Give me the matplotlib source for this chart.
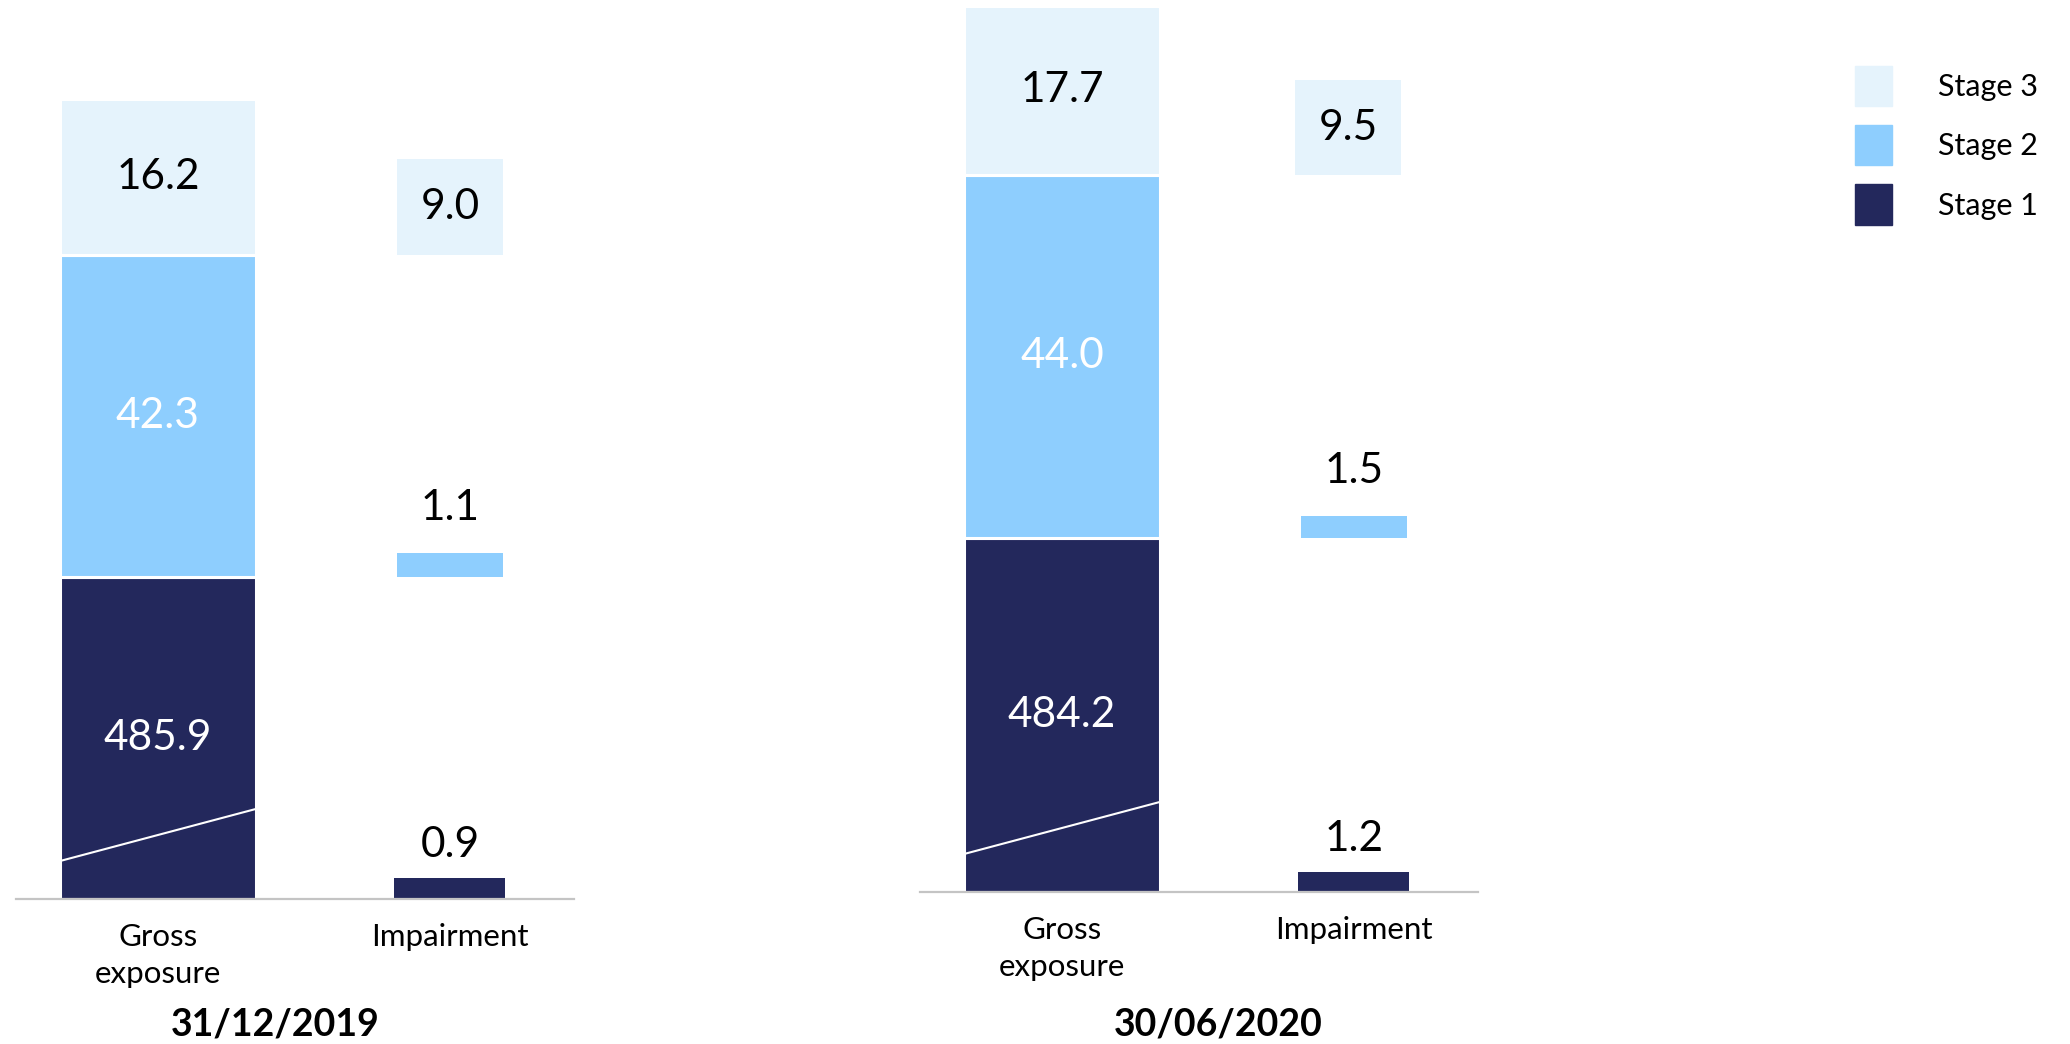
import matplotlib.pyplot as plt
from matplotlib.patches import Patch

plt.rcParams['font.family'] = ['Lato', 'DejaVu Sans']

# stage values (EUR bn) - stage 1, stage 2, stage 3
stages = ['Stage 1', 'Stage 2', 'Stage 3']
cats = ['Gross\nexposure', 'Impairment']
gross_2019 = [485.9, 42.3, 16.2]
imp_2019 = [0.9, 1.1, 9.0]
gross_2020 = [484.2, 44.0, 17.7]
imp_2020 = [1.2, 1.5, 9.5]

# drawn heights (chart is not to scale, broken axis on stage 1)
gross_h_2019 = [322, 322, 156]
imp_h_2019 = [21, 24, 96]
gross_h_2020 = [354, 363, 169]
imp_h_2020 = [20, 22, 95]

colors = ['#23285C', '#8ECEFE', '#E5F3FC']
txt_col = ['white', 'white', 'black']

W, H = 2070, 1044
fig = plt.figure(figsize=(W / 100, H / 100), dpi=100)


def panel(rect, ytop, gross, imp, gross_h, imp_h, date, date_x, s3_shift):
    ax = fig.add_axes(rect)
    ax.set_xlim(-0.486, 1.425)
    ax.set_ylim(0, ytop)
    bottom = 0
    bottoms = []
    for i in range(3):
        ax.bar(0, gross_h[i], bottom=bottom, width=0.67, color=colors[i],
               edgecolor='white', linewidth=2.2, zorder=2)
        ax.text(0, bottom + gross_h[i] / 2, f'{gross[i]:.1f}', ha='center',
                va='center', fontsize=30.5, color=txt_col[i], zorder=4)
        bottoms.append(bottom)
        bottom += gross_h[i]
    # break line in stage 1
    ax.plot([-0.335, 0.335], [38, 90], color='white', lw=1.5, zorder=3)

    offs = [33, 45]
    for i in range(3):
        b = bottoms[i]
        w = 0.38 if i == 0 else 0.363
        if i == 2:
            ax.bar(1 + s3_shift, imp_h[i], bottom=b, width=w, color=colors[i],
                   linewidth=0, zorder=2)
            ax.text(1 + s3_shift, b + imp_h[i] / 2, f'{imp[i]:.1f}', ha='center',
                    va='center', fontsize=30.5, color='black')
        else:
            ax.bar(1, imp_h[i], bottom=b, width=w, color=colors[i], linewidth=0, zorder=2)
            ax.text(1, b + imp_h[i] + offs[i], f'{imp[i]:.1f}', ha='center',
                    va='center', fontsize=30.5, color='black')

    for s in ['top', 'right', 'left']:
        ax.spines[s].set_visible(False)
    ax.spines['bottom'].set_color('#C4C4C4')
    ax.spines['bottom'].set_linewidth(1.6)
    ax.spines['bottom'].set_zorder(5)
    ax.set_yticks([])
    ax.set_xticks([0, 1])
    ax.set_xticklabels(cats, fontsize=22.5, linespacing=1.4)
    ax.tick_params(axis='x', length=0, pad=17)
    fig.text(date_x, 1 - 1024 / H, date, ha='center', va='center',
             fontsize=27, fontweight='bold')
    return ax


panel([16 / W, 145 / H, 558 / W, 899 / H], 899, gross_2019, imp_2019,
      gross_h_2019, imp_h_2019, '31/12/2019', 275 / W, 0.0)
panel([920 / W, 152 / H, 558 / W, 892 / H], 892, gross_2020, imp_2020,
      gross_h_2020, imp_h_2020, '30/06/2020', 1218 / W, -0.02)

handles = [Patch(color=colors[i], label=stages[i]) for i in [2, 1, 0]]
fig.legend(handles=handles, loc='upper left', bbox_to_anchor=(1855 / W, 1 - 66 / H),
           frameon=False, fontsize=22, handlelength=1.21, handleheight=1.65,
           handletextpad=1.5, labelspacing=0.62, borderpad=0, borderaxespad=0)

fig.savefig('out.png', dpi=100)
